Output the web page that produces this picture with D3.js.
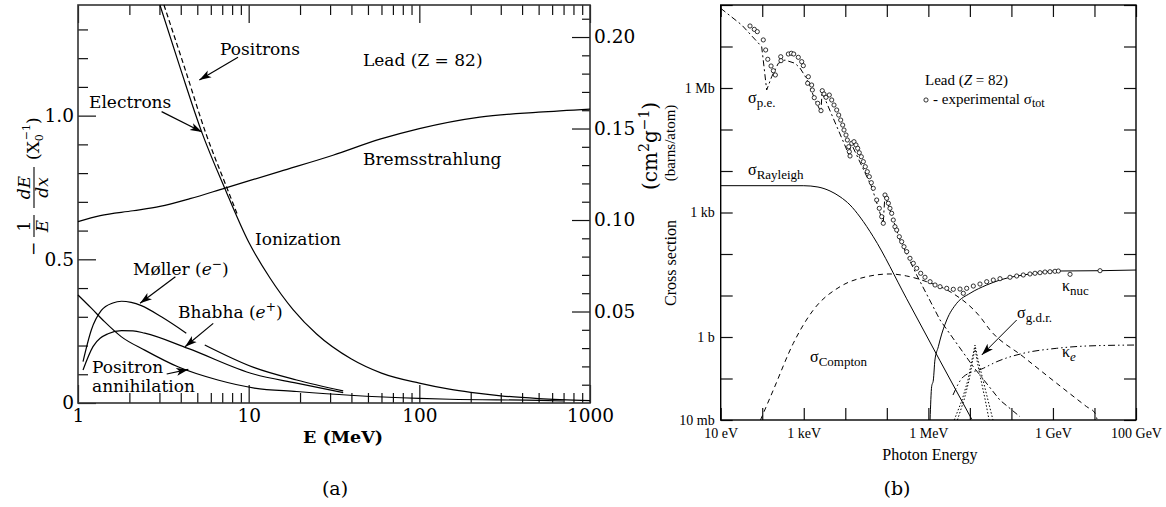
<!DOCTYPE html>
<html>
<head>
<meta charset="utf-8">
<script src="https://cdn.jsdelivr.net/npm/d3@7"></script>
<style>
  body { margin: 0; background: #fff; }
  svg { display: block; }
</style>
</head>
<body>
<div id="chart"></div>
<script>
// ---------- panel (a): fractional energy loss in lead, E in MeV, value in X0^-1 ----------
const aXMajor = [1, 10, 100, 1000];
const aYMajor = [0, 0.5, 1.0];
const aY2Major = [0.05, 0.10, 0.15, 0.20];

const ionElectrons = [[3.02,1.385],[4,1.16],[5.33,0.94],[7.27,0.745],[10,0.56],[13.33,0.435],[18.2,0.325],
  [25,0.24],[40,0.153],[60,0.104],[100,0.069],[150,0.048],[200,0.037],[300,0.025],[500,0.0155],[1000,0.008]];
const ionPositrons = [[3.19,1.385],[4.25,1.16],[5.6,0.94],[7.5,0.745],[8.6,0.655]];
const bremss = [[1,0.631],[1.35,0.652],[2.1,0.669],[3.02,0.684],[4.53,0.711],[7.27,0.748],[15.3,0.806],
  [31.2,0.862],[58.8,0.918],[100,0.955],[226,0.995],[500,1.012],[1000,1.023]];
const mollerLow = [[1.07,0.144],[1.197,0.254],[1.37,0.322],[1.6,0.348],[1.8,0.354],[2.05,0.350],[2.35,0.339],
  [3.08,0.300],[4.31,0.243]];
const mollerHigh = [[5.53,0.202],[10.8,0.123],[19.1,0.080],[35.8,0.042]];
const bhabha = [[1.07,0.115],[1.224,0.196],[1.50,0.241],[1.8,0.252],[2.1,0.251],[2.46,0.243],[4.41,0.190],
  [10.8,0.100],[19.1,0.069],[35.8,0.036]];
const annihilation = [[1,0.376],[1.197,0.330],[1.43,0.283],[1.79,0.231],[2.46,0.184],[3.85,0.126],[6.6,0.080],
  [10.8,0.052],[19.1,0.040],[39.2,0.027],[100,0.016],[151,0.013],[509,0.009],[700,0.007]];

// ---------- panel (b): photon cross sections in lead, E in eV, sigma in barns ----------
const bXTicks = [1e1,1e2,1e3,1e4,1e5,1e6,1e7,1e8,1e9,1e10,1e11];
const bXLabels = {1e1:"10 eV", 1e3:"1 keV", 1e6:"1 MeV", 1e9:"1 GeV", 1e11:"100 GeV"};
const bYTicks = [1e-2,1e-1,1e0,1e1,1e2,1e3,1e4,1e5,1e6,1e7,1e8];
const bYLabels = {1e-2:"10 mb", 1e0:"1 b", 1e3:"1 kb", 1e6:"1 Mb"};

const sigmaPE = [[10,8.32e7],[32.1,3.3e7],[97,9.9e6],[128,8.95e5],[169,1.87e6],[244,3.94e6],[353,4.73e6],
  [417,4.47e6],[615,3.94e6],[811,3.03e6],[1070,1.95e6],[1340,1.25e6],[1870,5.1e5],[2600,2.64e5],[2750,8.0e5],
  [1.23e4,2.43e4],[1.37e4,4.73e4],[4.33e4,4110],[8.2e4,550],[9.0e4,2640],[2.07e5,217],[5.24e5,31.2],
  [1.91e6,2.57],[1.21e7,0.192],[5.31e7,0.030],[1.61e8,0.012]];
const sigmaRayleigh = [[10,4430],[1000,4420],[2200,4110],[4290,3300],[7460,2400],[1.3e4,1520],[2.26e4,780],
  [4.72e4,261],[3.01e5,8.32],[1.91e6,0.267],[1.11e7,0.0104]];
const sigmaCompton = [[90.8,0.01],[185,0.0528],[560,0.705],[1700,4.48],[7460,16.3],[3.28e4,28.4],[1.19e5,33.0],
  [3.01e5,29.5],[9.13e5,21.5],[3.32e6,12.4],[1.75e7,3.09],[3.05e7,1.48],[1.93e8,0.335],[1.23e9,0.0766],
  [6.5e9,0.0209],[1.03e10,0.0147],[1.15e10,0.0105]];
const kappaNuc = [[1.1e6,0.01],[1.2e6,0.0634],[1.32e6,0.092],[1.44e6,0.279],[1.74e6,0.584],[1.91e6,0.847],
  [2.77e6,2.57],[4.82e6,6.49],[1.01e7,11.3],[2.54e7,17.9],[5.31e7,23.6],[2.8e8,33.0],[1.23e9,38.9],
  [1.36e10,39.6],[1e11,41.1]];
const kappaE = [[3.92e6,0.040],[6.95e6,0.110],[2.1e7,0.176],[4.43e7,0.254],[1.93e8,0.405],[1.23e9,0.534],
  [6.5e9,0.607],[1e11,0.641]];
const gdrA = [[4.2e6,0.01],[6.46e6,0.030],[9.0e6,0.092],[1.12e7,0.28],[1.33e7,0.64],[1.57e7,0.28],[2.07e7,0.092],
  [2.73e7,0.030],[3.6e7,0.01]];
const gdrB = [[5.0e6,0.01],[7.2e6,0.030],[9.6e6,0.092],[1.16e7,0.26],[1.33e7,0.55],[1.5e7,0.26],[1.85e7,0.092],
  [2.35e7,0.030],[2.9e7,0.01]];
const sigmaTot = [[50.8,3.12e7],[64.4,2.59e7],[76,2.28e7],[106,1.44e7],[121,8.24e6],[136,4.92e6],[163,3.39e6],
  [185,2.61e6],[207,2.06e6],[279,5.67e6],[283,4.55e6],[425,6.59e6],[501,6.86e6],[573,6.59e6],[739,5.49e6],
  [892,4.31e6],[975,3.45e6],[1240,1.3e6],[1290,1.87e6],[1550,1.18e6],[1610,8.95e5],[1790,5.84e5],[2170,4.28e5],
  [2600,2.84e5],[2790,8.61e5],[3070,7.16e5],[3430,5.97e5],[4120,6.78e5],[4710,5.14e5],[5350,3.89e5],
  [6210,2.95e5],[6940,2.23e5],[7750,1.69e5],[8660,1.28e5],[9310,9.72e4],[1.04e4,7.36e4],[1.12e4,5.58e4],
  [1.21e4,3.85e4],[1.25e4,2.92e4],[1.30e4,2.30e4],[1.43e4,4.64e4],[1.62e4,5.08e4],[1.81e4,4.24e4],
  [1.99e4,3.52e4],[2.17e4,2.76e4],[2.43e4,2.21e4],[2.72e4,1.68e4],[3.03e4,1.27e4],[3.39e4,9620],
  [3.79e4,7290],[4.23e4,5230],[4.72e4,3830],[5.7e4,2000],[6.59e4,1260],[7.53e4,792],[8.22e4,550],
  [9.04e4,2640],[9.93e4,2200],[1.09e5,1670],[1.19e5,1260],[1.31e5,957],[1.43e5,659],[1.57e5,455],
  [1.73e5,378],[2.0e5,261],[2.28e5,198],[2.59e5,150],[3.01e5,114],[3.61e5,78.7],[4.34e5,59.7],[5.24e5,45.2],
  [6.54e5,34.3],[8.3e5,27.5],[1.1e6,21.5],[1.45e6,17.9],[1.91e6,16.3],[2.77e6,14.9],[3.99e6,14.1],
  [5.78e6,14.3],[6.95e6,11.3],[8.38e6,14.9],[1.21e7,16.9],[1.75e7,18.9],[2.54e7,21.5],[3.66e7,23.6],
  [5.31e7,25.4],[9.25e7,27.5],[1.34e8,29.5],[1.93e8,31.2],[2.8e8,33.0],[3.7e8,34.3],[4.88e8,35.4],
  [6.44e8,36.8],[8.49e8,37.4],[1.12e9,38.3],[1.35e9,38.9],[2.58e9,32.4],[1.36e10,39.6]];

const FA = "'DejaVu Serif', serif";
const FB = "'Liberation Serif', 'Times New Roman', serif";

const svg = d3.select("#chart").append("svg").attr("width", 1166).attr("height", 507);
const defs = svg.append("defs");
defs.append("marker").attr("id", "arr")
  .attr("viewBox", "0 0 10 10").attr("refX", 10).attr("refY", 5)
  .attr("markerWidth", 12).attr("markerHeight", 12).attr("markerUnits", "userSpaceOnUse")
  .attr("orient", "auto")
  .append("path").attr("d", "M0,1.8 L10,5 L0,8.2 L2.5,5 Z").attr("fill", "#000");

function ticks(g, axis, size, fmt, font, fsize, pad) {
  g.call(axis.tickSize(-size).tickPadding(pad || 0).tickFormat(fmt));
  g.select(".domain").remove();
  g.selectAll(".tick line").attr("stroke", "#111").attr("stroke-width", 1.2);
  g.selectAll("text").attr("font-family", font).attr("font-size", fsize).attr("fill", "#000");
}

// ================= panel (a) =================
const xA = d3.scaleLog().domain([1, 1000]).range([78, 590]);
const yA = d3.scaleLinear().domain([0, 1.385]).range([403, 5]);
const yA2 = d3.scaleLinear().domain([0, 0.2175]).range([403, 5]);
const gA = svg.append("g");

const aXMinor = xA.ticks().filter(d => !aXMajor.includes(d));
const aYMinor = d3.range(1, 14).map(i => i / 10).filter(d => !aYMajor.some(m => Math.abs(m - d) < 1e-9));
const aY2Minor = d3.range(1, 22).map(i => i / 100).filter(d => !aY2Major.some(m => Math.abs(m - d) < 1e-9));

ticks(gA.append("g").attr("transform", `translate(0,${yA(0)})`), d3.axisBottom(xA).tickValues(aXMinor), 10, "", FA, 18);
ticks(gA.append("g").attr("transform", `translate(0,${yA(0)})`), d3.axisBottom(xA).tickValues(aXMajor), 18, d3.format("d"), FA, 18.5, 6);
ticks(gA.append("g").attr("transform", `translate(0,5)`), d3.axisTop(xA).tickValues(aXMinor), 10, "", FA, 18);
ticks(gA.append("g").attr("transform", `translate(0,5)`), d3.axisTop(xA).tickValues(aXMajor), 18, "", FA, 18);
ticks(gA.append("g").attr("transform", `translate(78,0)`), d3.axisLeft(yA).tickValues(aYMinor), 10, "", FA, 18);
ticks(gA.append("g").attr("transform", `translate(78,0)`), d3.axisLeft(yA).tickValues(aYMajor), 18,
  d => d === 0 ? "0" : d3.format(".1f")(d), FA, 18.5, 4);
ticks(gA.append("g").attr("transform", `translate(590,0)`), d3.axisRight(yA2).tickValues(aY2Minor), 8, "", FA, 18);
ticks(gA.append("g").attr("transform", `translate(590,0)`), d3.axisRight(yA2).tickValues(aY2Major), 18, d3.format(".2f"), FA, 18.5, 4);

gA.append("rect").attr("x", 78).attr("y", 5).attr("width", 512).attr("height", 398)
  .attr("fill", "none").attr("stroke", "#333").attr("stroke-width", 1.6);

const lineA = d3.line().x(d => xA(d[0])).y(d => yA(d[1])).curve(d3.curveMonotoneX);
const curvesA = [
  [ionElectrons, null], [ionPositrons, "5,3"], [bremss, null], [mollerLow, null], [mollerHigh, null],
  [bhabha, null], [annihilation, null]
];
curvesA.forEach(([data, dash]) => {
  gA.append("path").datum(data).attr("d", lineA).attr("fill", "none")
    .attr("stroke", "#000").attr("stroke-width", 1.2).attr("stroke-dasharray", dash);
});

// annotations (a)
const tA = (x, y, s, parts) => {
  const t = gA.append("text").attr("x", x).attr("y", y).attr("font-family", FA).attr("font-size", s || 17);
  parts.forEach(p => {
    const sp = t.append("tspan").text(p.t);
    if (p.i) sp.attr("font-style", "italic");
    if (p.sup) sp.attr("baseline-shift", "super").attr("font-size", (s || 17) * 0.72);
  });
  return t;
};
tA(220, 55, 17, [{t: "Positrons"}]);
tA(89, 108, 17, [{t: "Electrons"}]);
tA(363, 66, 17, [{t: "Lead  (Z = 82)"}]);
tA(363, 165, 17, [{t: "Bremsstrahlung"}]);
tA(255, 245, 17, [{t: "Ionization"}]);
tA(133, 275, 17, [{t: "Møller ("}, {t: "e", i: true}, {t: "−", sup: true}, {t: ")"}]);
tA(178, 318, 17, [{t: "Bhabha ("}, {t: "e", i: true}, {t: "+", sup: true}, {t: ")"}]);
tA(92, 373, 17, [{t: "Positron"}]);
tA(92, 392, 17, [{t: "annihilation"}]);

const arrowsA = [
  [[8.66, 1.203], [5.14, 1.124]],
  [[3.09, 1.014], [5.33, 0.943]],
  [[3.72, 0.439], [2.31, 0.347]],
  [[6.2, 0.277], [4.24, 0.196]],
  [[3.31, 0.101], [4.43, 0.117]]
];
arrowsA.forEach(([a, b]) => {
  gA.append("line").attr("x1", xA(a[0])).attr("y1", yA(a[1])).attr("x2", xA(b[0])).attr("y2", yA(b[1]))
    .attr("stroke", "#000").attr("stroke-width", 1.2).attr("marker-end", "url(#arr)");
});

// axis titles (a)
gA.append("text").attr("x", 343).attr("y", 443).attr("text-anchor", "middle")
  .attr("font-family", FA).attr("font-size", 17.5).attr("font-weight", "bold").text("E  (MeV)");
gA.append("text").attr("x", 335).attr("y", 495).attr("text-anchor", "middle")
  .attr("font-family", FA).attr("font-size", 19).text("(a)");

const yl = gA.append("g").attr("transform", "translate(33,262) rotate(-90)")
  .attr("font-family", FA).attr("font-size", 17);
yl.append("text").attr("x", 6).attr("y", 6).text("−");
yl.append("line").attr("x1", 25).attr("x2", 47).attr("y1", 1).attr("y2", 1).attr("stroke", "#000").attr("stroke-width", 1.1);
yl.append("text").attr("x", 36).attr("y", -3).attr("text-anchor", "middle").text("1");
yl.append("text").attr("x", 36).attr("y", 15).attr("text-anchor", "middle").attr("font-style", "italic").text("E");
yl.append("line").attr("x1", 54).attr("x2", 95).attr("y1", 1).attr("y2", 1).attr("stroke", "#000").attr("stroke-width", 1.1);
yl.append("text").attr("x", 74.5).attr("y", -3).attr("text-anchor", "middle").attr("font-style", "italic").text("dE");
yl.append("text").attr("x", 74.5).attr("y", 15).attr("text-anchor", "middle").attr("font-style", "italic").text("dx");
const ylp = yl.append("text").attr("x", 102).attr("y", 6);
ylp.append("tspan").text("(X");
ylp.append("tspan").attr("font-size", 11).attr("dy", 4).text("0");
ylp.append("tspan").attr("font-size", 11).attr("dx", -6).attr("dy", -13).text("−1");
ylp.append("tspan").attr("dy", 9).text(")");

const yr = gA.append("text").attr("transform", "translate(657,190) rotate(-90)")
  .attr("font-family", FA).attr("font-size", 20);
yr.append("tspan").text("(cm");
yr.append("tspan").attr("font-size", 14).attr("dy", -8).text("2");
yr.append("tspan").attr("dy", 8).text("g");
yr.append("tspan").attr("font-size", 14).attr("dy", -8).text("−1");
yr.append("tspan").attr("dy", 8).text(")");

// ================= panel (b) =================
const xB = d3.scaleLog().domain([1e1, 1e11]).range([720.7, 1136]);
const yB = d3.scaleLog().domain([1e-2, 1e8]).range([420, 5]);
const gB = svg.append("g");

ticks(gB.append("g").attr("transform", `translate(0,420)`), d3.axisBottom(xB).tickValues(bXTicks), 12,
  d => bXLabels[d] || "", FB, 14, 8);
ticks(gB.append("g").attr("transform", `translate(0,5)`), d3.axisTop(xB).tickValues(bXTicks), 12, "", FB, 14);
ticks(gB.append("g").attr("transform", `translate(720.7,0)`), d3.axisLeft(yB).tickValues(bYTicks), 12,
  d => bYLabels[d] || "", FB, 14, 6);
ticks(gB.append("g").attr("transform", `translate(1136,0)`), d3.axisRight(yB).tickValues(bYTicks), 12, "", FB, 14);

gB.append("rect").attr("x", 720.7).attr("y", 5).attr("width", 1136 - 720.7).attr("height", 415)
  .attr("fill", "none").attr("stroke", "#000").attr("stroke-width", 1.4);

const lineB = d3.line().x(d => xB(d[0])).y(d => yB(d[1]));
const curvesB = [
  [sigmaRayleigh, null, d3.curveMonotoneX],
  [sigmaCompton, "5,4", d3.curveMonotoneX],
  [kappaNuc, null, d3.curveMonotoneX],
  [kappaE, "7,3,1.5,3,1.5,3", d3.curveMonotoneX],
  [gdrA, "1.5,2", d3.curveLinear],
  [gdrB, "1.5,2", d3.curveLinear],
  [sigmaPE, "6,3,2,3", d3.curveLinear]
];
curvesB.forEach(([data, dash, curve]) => {
  gB.append("path").datum(data).attr("d", lineB.curve(curve)).attr("fill", "none")
    .attr("stroke", "#000").attr("stroke-width", 1).attr("stroke-dasharray", dash);
});

gB.selectAll("circle.tot").data(sigmaTot).join("circle").attr("class", "tot")
  .attr("cx", d => xB(d[0])).attr("cy", d => yB(d[1])).attr("r", 2.1)
  .attr("fill", "#fff").attr("stroke", "#000").attr("stroke-width", 0.8);

// labels (b)
const tB = (x, y, main, sub, subItalic) => {
  const t = gB.append("text").attr("x", x).attr("y", y).attr("font-family", FB).attr("font-size", 16);
  t.append("tspan").text(main);
  if (sub) {
    const s = t.append("tspan").attr("font-size", 13).attr("dy", 4).text(sub);
    if (subItalic) s.attr("font-style", "italic");
  }
  return t;
};
tB(748, 103, "σ", "p.e.");
tB(748, 175, "σ", "Rayleigh");
tB(810, 362, "σ", "Compton");
tB(1062, 291, "κ", "nuc");
tB(1017, 318, "σ", "g.d.r.");
tB(1062, 357, "κ", "e", true);

gB.append("line").attr("x1", xB(1.34e8)).attr("y1", yB(2.57)).attr("x2", xB(1.93e7)).attr("y2", yB(0.368))
  .attr("stroke", "#000").attr("stroke-width", 1).attr("marker-end", "url(#arr)");

const lead = gB.append("text").attr("x", 925).attr("y", 85).attr("font-family", FB).attr("font-size", 15);
lead.append("tspan").text("Lead (");
lead.append("tspan").attr("font-style", "italic").text("Z");
lead.append("tspan").text(" = 82)");
gB.append("circle").attr("cx", 926).attr("cy", 100).attr("r", 2.1).attr("fill", "#fff").attr("stroke", "#000").attr("stroke-width", 0.8);
const exp = gB.append("text").attr("x", 933).attr("y", 104).attr("font-family", FB).attr("font-size", 15);
exp.append("tspan").text(" - experimental σ");
exp.append("tspan").attr("font-size", 12).attr("dy", 3).text("tot");

gB.append("text").attr("x", 930).attr("y", 460).attr("text-anchor", "middle")
  .attr("font-family", FB).attr("font-size", 16).text("Photon Energy");
gB.append("text").attr("x", 897).attr("y", 495).attr("text-anchor", "middle")
  .attr("font-family", FA).attr("font-size", 19).text("(b)");

gB.append("text").attr("transform", "translate(676,263) rotate(-90)").attr("text-anchor", "middle")
  .attr("font-family", FB).attr("font-size", 16).text("Cross section");
gB.append("text").attr("transform", "translate(675,143) rotate(-90)").attr("text-anchor", "middle")
  .attr("font-family", FB).attr("font-size", 15).text("(barns/atom)");
</script>
</body>
</html>
